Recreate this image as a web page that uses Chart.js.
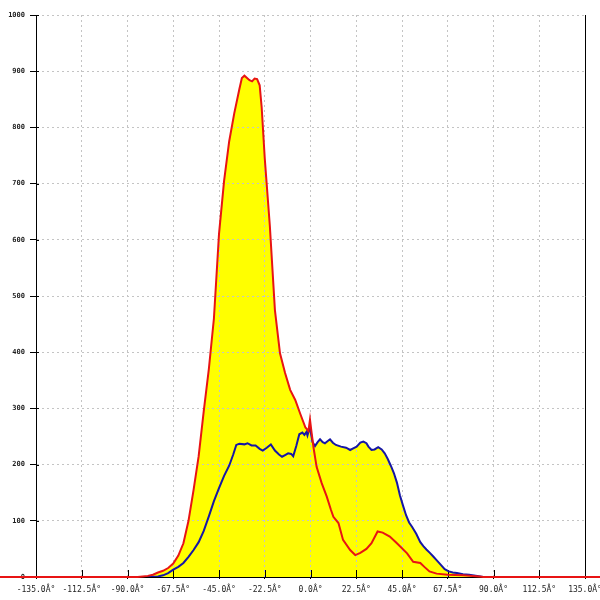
<!DOCTYPE html>
<html>
<head>
<meta charset="utf-8">
<script src="https://cdn.jsdelivr.net/npm/chart.js@4"></script>
<style>
    html, body { margin: 0; padding: 0; background: #fff; }
    canvas { display: block; }
</style>
</head>
<body>
<canvas id="chart" width="600" height="600"></canvas>
<script>
// === DỮ LIỆU ===
const xTicks = [-135, -112.5, -90, -67.5, -45, -22.5, 0, 22.5, 45, 67.5, 90, 112.5, 135];
const yTicks = [0, 100, 200, 300, 400, 500, 600, 700, 800, 900, 1000];

const redAngles = [-180, -85, -82.5, -80, -77.5, -75, -72.5, -70, -67.5, -65, -62.5, -60, -57.5, -55, -52.5, -50, -47.5, -45, -42.5, -40,
    -37.5, -35, -33.75, -32.5, -30, -28.75, -27.5, -26.25, -25, -24, -22.5, -20, -17.5, -15, -12.5, -10, -7.5, -5, -2.5, -1,
    -0.25, 0.5, 1.5, 3, 5.5, 8, 10, 11.25, 13.75, 16, 19.5, 22, 24.5, 27.5, 30, 33, 35.5, 39, 42.5, 47.5,
    50.5, 54, 56, 58.5, 62, 67.5, 75, 83, 85, 180];
const redValues = [0, 0, 1, 2, 4, 8, 11, 16, 24, 38, 60, 100, 155, 215, 295, 370, 460, 610, 705, 775,
    825, 868, 888, 892, 884, 882, 887, 886, 875, 835, 745, 625, 475, 398, 363, 333, 315, 290, 266, 260,
    280, 258, 230, 196, 167, 143, 120, 107, 96, 66, 48, 39, 43, 50, 60, 81, 79, 72, 60, 42,
    27, 25, 18, 10, 6, 4, 3, 1, 0, 0];

const blueAngles = [-180, -80, -75, -72.5, -70, -67.5, -65, -62.5, -60, -57.5, -55, -52.5, -50, -47.5, -45, -42.5, -40, -38, -36.5, -35,
    -32.5, -31, -29, -27, -25, -23.5, -21.5, -19.5, -17.5, -15.5, -14, -12.5, -11, -9.5, -8.5, -7, -5.5, -4, -3, -2,
    -1.5, -0.3, 1, 2.2, 3.5, 4.7, 6, 7.1, 8.5, 9.6, 11, 12.5, 15, 17.5, 19.5, 21, 22.7, 24.5, 26, 27.5,
    28.5, 30, 31.5, 33.3, 35, 36.5, 38, 39.5, 41, 42.5, 44, 45.5, 47, 48.5, 50, 52, 54, 55.5, 57, 58.7,
    60.5, 62, 64, 66, 68, 70, 72, 75, 78, 82, 85, 180];
const blueValues = [0, 0, 1, 3, 7, 13, 18, 25, 36, 48, 62, 82, 108, 135, 158, 180, 198, 218, 235, 237,
    236, 238, 234, 234, 228, 225, 230, 236, 225, 218, 214, 217, 220, 219, 215, 233, 254, 257, 253, 258,
    252, 267, 240, 233, 240, 245, 240, 238, 242, 245, 239, 235, 232, 230, 226, 229, 232, 239, 241, 238,
    232, 226, 227, 231, 227, 220, 210, 198, 185, 168, 145, 127, 110, 97, 89, 77, 62, 55, 49, 43,
    36, 30, 22, 14, 10, 8, 7, 5, 4, 2, 0, 0];

const toPoints = (angles, values) => angles.map((a, i) => ({ x: a, y: values[i] }));

const gridColor = '#c4c4c4';

// vạch chia nhỏ nằm bên trong vùng vẽ (giống ảnh gốc)
const innerTicks = {
    id: 'innerTicks',
    beforeDatasetsDraw(chart) {
        const { ctx, chartArea, scales } = chart;
        ctx.save();
        ctx.strokeStyle = '#000';
        ctx.lineWidth = 1;
        ctx.beginPath();
        scales.x.ticks.forEach(t => {
            const px = Math.round(scales.x.getPixelForValue(t.value)) + 0.5;
            ctx.moveTo(px, chartArea.bottom - 7);
            ctx.lineTo(px, chartArea.bottom);
        });
        scales.y.ticks.forEach(t => {
            const py = Math.round(scales.y.getPixelForValue(t.value)) + 0.5;
            ctx.moveTo(chartArea.left, py);
            ctx.lineTo(chartArea.left + 3, py);
        });
        ctx.stroke();
        ctx.restore();
    }
};

new Chart(document.getElementById('chart'), {
    type: 'line',
    data: {
        datasets: [
            {
                label: 'red',
                data: toPoints(redAngles, redValues),
                borderColor: '#e81414',
                backgroundColor: '#ffff00',
                borderWidth: 2,
                pointRadius: 0,
                tension: 0,
                fill: 'origin',
                clip: false
            },
            {
                label: 'blue',
                data: toPoints(blueAngles, blueValues),
                borderColor: '#1616a6',
                backgroundColor: '#ffff00',
                borderWidth: 2,
                pointRadius: 0,
                tension: 0,
                fill: 'origin'
            }
        ]
    },
    options: {
        responsive: false,
        animation: false,
        layout: { padding: { top: 15, left: 0, right: 0, bottom: 0 } },
        plugins: {
            legend: { display: false },
            tooltip: { enabled: false },
            filler: { drawTime: 'beforeDraw' }
        },
        scales: {
            x: {
                type: 'linear',
                min: xTicks[0],
                max: xTicks[xTicks.length - 1],
                afterBuildTicks: (scale) => { scale.ticks = xTicks.map(v => ({ value: v })); },
                afterFit: (scale) => {
                    scale.height = 23;
                    scale.paddingLeft = 0;
                    scale.paddingRight = 0;
                },
                ticks: {
                    autoSkip: false,
                    maxRotation: 0,
                    padding: 6,
                    color: '#222',
                    font: { family: 'DejaVu Sans Mono', size: 8 },
                    callback: (value) => value.toFixed(1) + 'Â°'
                },
                grid: { color: gridColor, tickColor: '#000', tickLength: 2 },
                border: { color: '#000', width: 1, dash: [2, 3] }
            },
            y: {
                type: 'linear',
                min: yTicks[0],
                max: yTicks[yTicks.length - 1],
                afterBuildTicks: (scale) => { scale.ticks = yTicks.map(v => ({ value: v })); },
                afterFit: (scale) => {
                    scale.width = 36;
                    scale.paddingTop = 0;
                    scale.paddingBottom = 0;
                },
                ticks: {
                    padding: 5,
                    color: '#222',
                    font: { family: 'DejaVu Sans Mono', size: 7, weight: 'bold' },
                    callback: (value) => String(value)
                },
                grid: { color: gridColor, tickColor: '#000', tickLength: 6 },
                border: { color: '#000', width: 1, dash: [2, 3] }
            },
            y2: {
                type: 'linear',
                position: 'right',
                min: 0,
                max: 1000,
                afterFit: (scale) => { scale.width = 15; },
                ticks: { display: false },
                grid: { display: false },
                border: { color: '#000', width: 1 }
            }
        }
    },
    plugins: [innerTicks]
});
</script>
</body>
</html>
